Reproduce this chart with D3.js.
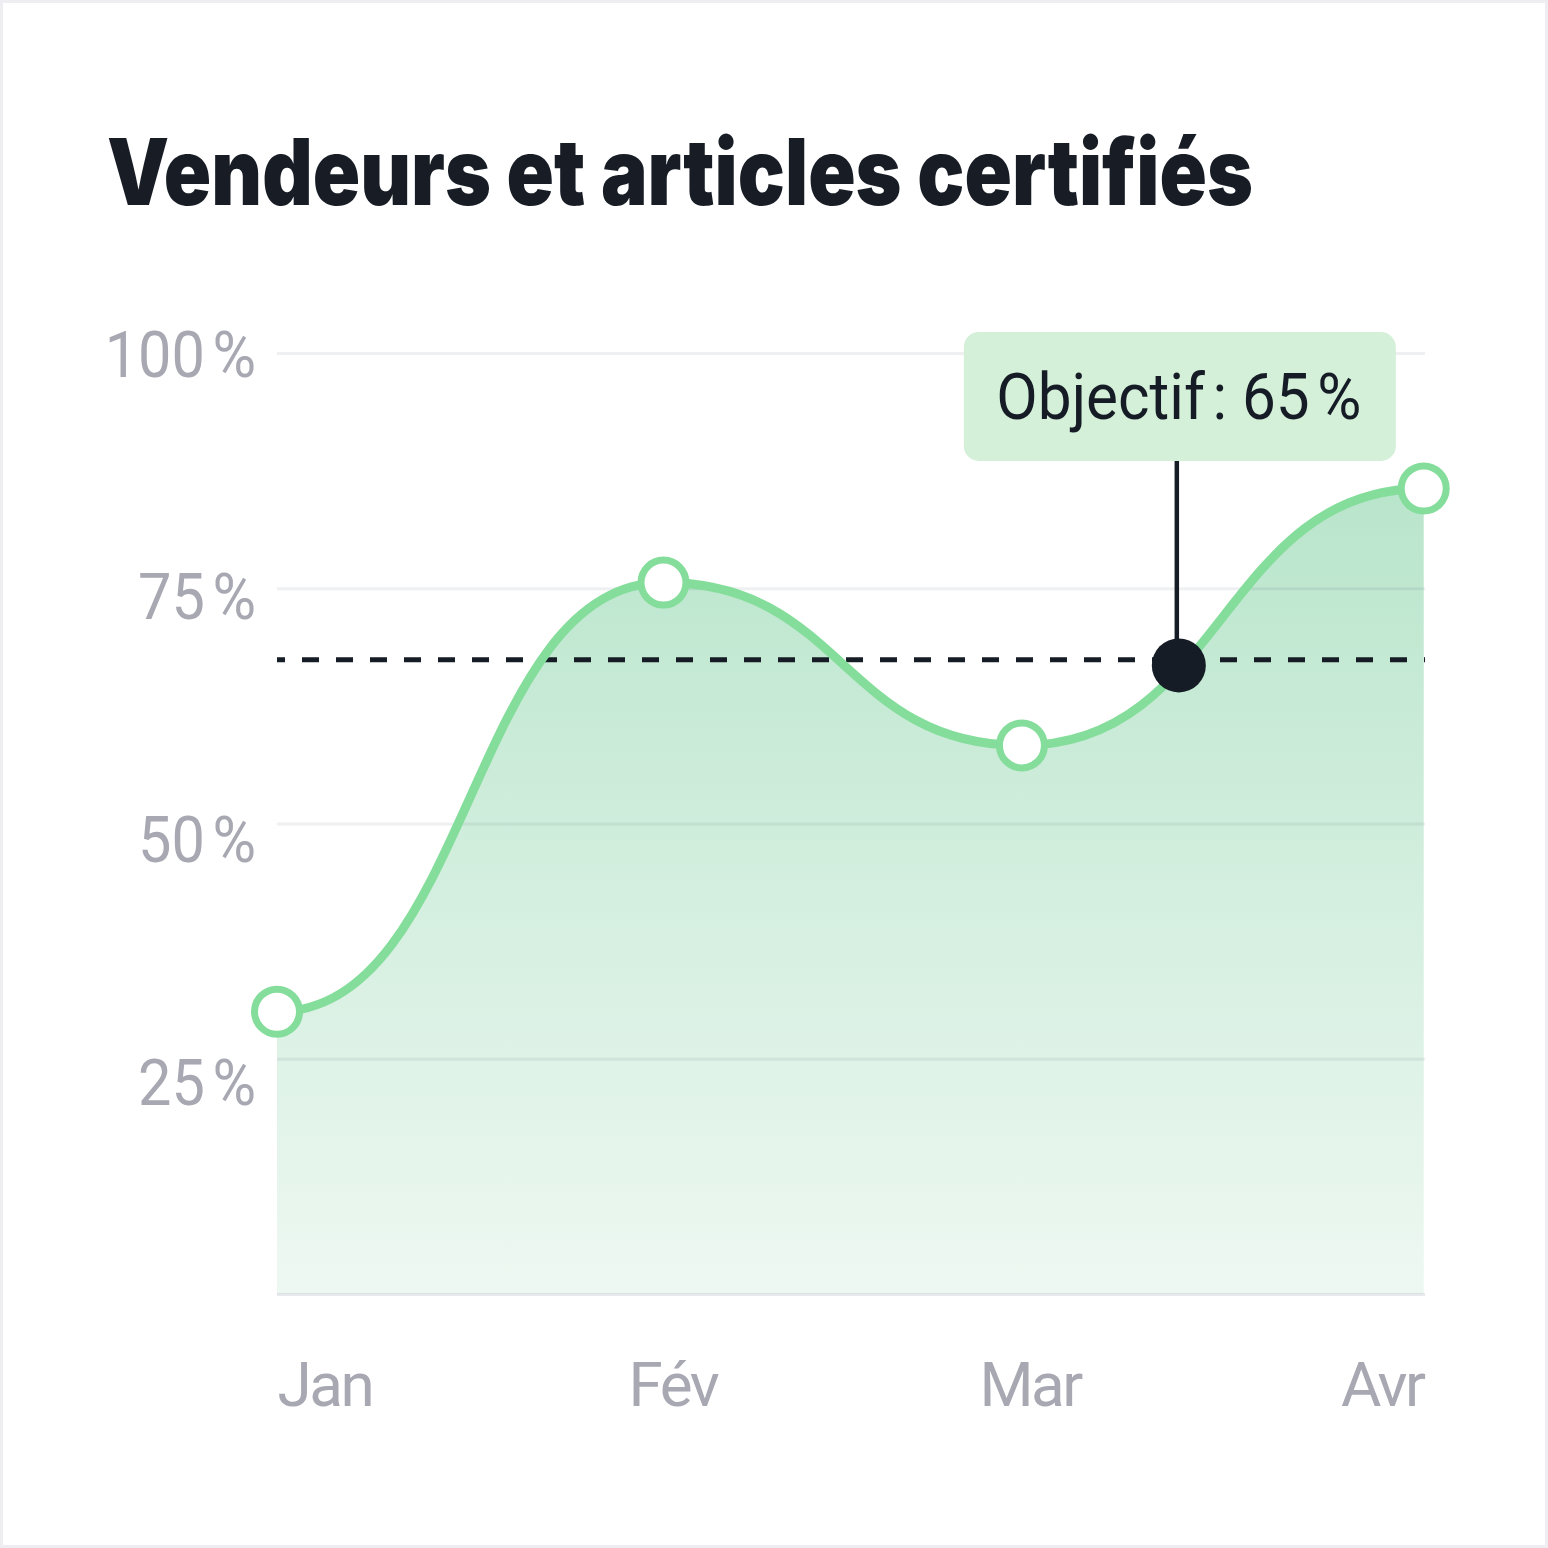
<!DOCTYPE html>
<html>
<head>
<meta charset="utf-8">
<script src="https://cdn.jsdelivr.net/npm/d3@7"></script>
<style>
  html, body { margin: 0; padding: 0; background: #fff; }
  svg { display: block; }
</style>
</head>
<body>
<div id="chart"></div>
<script>
// data (x = days since 1 Jan, y = %)
var monthLabels = ["Jan", "Fév", "Mar", "Avr"];
var monthDays = [0, 31, 59, 90];
var pointDays = [0, 30.3, 58.4, 89.9];
var pointValues = [30, 75.6, 58.3, 85.6];
var yTicks = [0, 25, 50, 75, 100];
var goalValue = 67.4;
var goalText = "Objectif\u202f: 65\u202f%";
var calloutDay = 70.7;
var calloutValue = 66.8;

var svgWidth = 1548, svgHeight = 1548;
var plotLeft = 277, plotRight = 1425, plotTop = 353, plotBottom = 1294;
var green = "#84dd9a", ink = "#161c26", grey = "#a8a8b3";

var svg = d3.select("#chart").append("svg")
  .attr("width", svgWidth)
  .attr("height", svgHeight);

// page frame
svg.append("rect")
  .attr("x", 1.5).attr("y", 1.5)
  .attr("width", svgWidth - 3).attr("height", svgHeight - 3)
  .attr("fill", "#fff")
  .attr("stroke", "#eeeef2")
  .attr("stroke-width", 3);

var x = d3.scaleLinear().domain([0, 90]).range([plotLeft, plotRight]);
var y = d3.scaleLinear().domain([0, 100]).range([plotBottom, plotTop]);
// tick labels sit on a slightly stretched scale in the original
var yLab = d3.scaleLinear().domain([0, 100]).range([1324.5, 353]);

var data = pointDays.map(function(d, i) { return { day: d, value: pointValues[i] }; });

// gradient for the area
var defs = svg.append("defs");
var grad = defs.append("linearGradient")
  .attr("id", "areaGrad")
  .attr("gradientUnits", "userSpaceOnUse")
  .attr("x1", 0).attr("x2", 0)
  .attr("y1", y(100)).attr("y2", y(0));
grad.append("stop").attr("offset", "0%").attr("stop-color", "#b0e2c5");
grad.append("stop").attr("offset", "100%").attr("stop-color", "#eef8f2");

var area = d3.area()
  .x(function(d) { return x(d.day); })
  .y0(y(0))
  .y1(function(d) { return y(d.value); })
  .curve(d3.curveBumpX);

var line = d3.line()
  .x(function(d) { return x(d.day); })
  .y(function(d) { return y(d.value); })
  .curve(d3.curveBumpX);

svg.append("path")
  .datum(data)
  .attr("d", area)
  .attr("fill", "url(#areaGrad)");

// gridlines
var grid = svg.append("g")
  .attr("transform", "translate(" + plotLeft + ",0)")
  .call(d3.axisLeft(y).tickValues(yTicks).tickSize(-(plotRight - plotLeft)).tickFormat(""));
grid.select(".domain").remove();
grid.selectAll(".tick line")
  .attr("stroke", "#1e2846")
  .attr("stroke-opacity", function(d) { return d === 0 ? 0.1 : 0.07; })
  .attr("stroke-width", 3);

// y labels
var yAxis = svg.append("g")
  .attr("transform", "translate(" + plotLeft + ",0)")
  .call(d3.axisLeft(yLab).tickValues(yTicks.slice(1)).tickSize(0).tickPadding(21)
    .tickFormat(function(d) { return d + "\u202f%"; }));
yAxis.select(".domain").remove();
yAxis.selectAll("text")
  .attr("fill", grey)
  .attr("font-family", "Roboto, sans-serif")
  .attr("font-size", 64)
  .attr("letter-spacing", -3)
  .attr("dy", "0.36em")
  .each(function() {
    // narrow the glyphs a little, the original face is condensed
    var w = this.getComputedTextLength();
    d3.select(this)
      .attr("textLength", w * 0.93)
      .attr("lengthAdjust", "spacingAndGlyphs");
  });

// x labels
var xAxis = svg.append("g")
  .attr("transform", "translate(0," + plotBottom + ")")
  .call(d3.axisBottom(x).tickValues(monthDays).tickSize(0).tickPadding(68)
    .tickFormat(function(d, i) { return monthLabels[i]; }));
xAxis.select(".domain").remove();
xAxis.selectAll("text")
  .attr("fill", grey)
  .attr("font-family", "Roboto, sans-serif")
  .attr("font-size", 62)
  .attr("letter-spacing", -2.5)
  .attr("text-anchor", function(d, i) {
    return i === 0 ? "start" : (i === monthDays.length - 1 ? "end" : "middle");
  })
  .attr("dx", function(d, i) { return i === monthDays.length - 1 ? -2 : 0; });

// goal dashed line
svg.append("line")
  .attr("x1", x(0)).attr("x2", x(90))
  .attr("y1", y(goalValue)).attr("y2", y(goalValue))
  .attr("stroke", ink)
  .attr("stroke-width", 5)
  .attr("stroke-dasharray", "17 17")
  .attr("stroke-dashoffset", 9);

// series line
svg.append("path")
  .datum(data)
  .attr("d", line)
  .attr("fill", "none")
  .attr("stroke", green)
  .attr("stroke-width", 9);

svg.selectAll(".pt")
  .data(data)
  .enter()
  .append("circle")
  .attr("class", "pt")
  .attr("cx", function(d) { return x(d.day); })
  .attr("cy", function(d) { return y(d.value); })
  .attr("r", 22.5)
  .attr("fill", "#fff")
  .attr("stroke", green)
  .attr("stroke-width", 7);

// callout
var cx = x(calloutDay), cy = y(calloutValue);
var boxW = 432, boxH = 129, boxTop = 332;

svg.append("line")
  .attr("x1", cx - 2).attr("x2", cx - 2)
  .attr("y1", boxTop + boxH).attr("y2", cy)
  .attr("stroke", ink)
  .attr("stroke-width", 4.5);

svg.append("circle")
  .attr("cx", cx).attr("cy", cy)
  .attr("r", 27)
  .attr("fill", ink);

svg.append("rect")
  .attr("x", cx - boxW / 2 + 1).attr("y", boxTop)
  .attr("width", boxW).attr("height", boxH)
  .attr("rx", 15)
  .attr("fill", "#d4f0d9");

svg.append("text")
  .attr("x", cx).attr("y", 419)
  .attr("text-anchor", "middle")
  .attr("font-family", "Roboto, sans-serif")
  .attr("font-size", 64)
  .attr("fill", ink)
  .attr("textLength", 365)
  .attr("lengthAdjust", "spacingAndGlyphs")
  .text(goalText);

// title
svg.append("text")
  .attr("x", 107).attr("y", 205)
  .attr("font-family", "Inter, sans-serif")
  .attr("font-weight", 900)
  .attr("font-size", 92)
  .attr("fill", "#171c25")
  .attr("textLength", 1146)
  .attr("lengthAdjust", "spacingAndGlyphs")
  .text("Vendeurs et articles certifiés");
</script>
</body>
</html>
